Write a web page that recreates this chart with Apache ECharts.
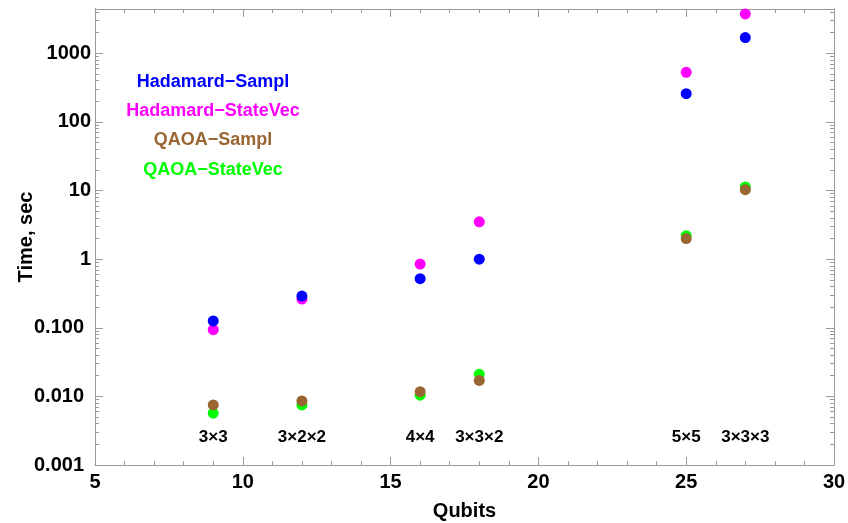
<!DOCTYPE html>
<html>
<head>
<meta charset="utf-8">
<script src="https://cdn.jsdelivr.net/npm/echarts@6/dist/echarts.min.js"></script>
<style>
html,body{margin:0;padding:0;background:#fff;}
#chart{width:848px;height:523px;}
</style>
</head>
<body>
<div id="chart"></div>
<script>
// ---- data ----
const qubits = [9, 12, 16, 18, 25, 27];
const latticeLabels = ['3×3', '3×2×2', '4×4', '3×3×2', '5×5', '3×3×3'];
const hadamardSampl = [0.126, 0.29, 0.52, 1.0, 258, 1700];
const hadamardStateVec = [0.094, 0.262, 0.85, 3.5, 530, 3750];
const qaoaSampl = [0.0075, 0.0086, 0.0117, 0.0171, 2.0, 10.3];
const qaoaStateVec = [0.0057, 0.0075, 0.0104, 0.021, 2.2, 11.3];
const seriesNames = ['Hadamard\u2212Sampl', 'Hadamard\u2212StateVec', 'QAOA\u2212Sampl', 'QAOA\u2212StateVec'];
const seriesColors = ['#0000ff', '#ff00ff', '#996633', '#00ff00'];
const yTickValues = [0.001, 0.01, 0.1, 1, 10, 100, 1000];
const yTickLabels = ['0.001', '0.010', '0.100', '1', '10', '100', '1000'];
const xTickValues = [5, 10, 15, 20, 25, 30];

// ---- config ----
const X_MIN = 5, X_MAX = 30, Y_MIN = 0.001, Y_MAX = 4430;
const LABEL_Y = 0.0025;
const FONT = '"Liberation Sans", Arial, sans-serif';
const AXIS_COLOR = '#9a9a9a';
const LEGEND_POS = [[213, 82], [213, 111], [213, 140], [213, 170]];

const yMinor = [];
for (let k = -3; k <= 3; k++) {
  for (let m = 2; m <= 9; m++) {
    const v = +(m * Math.pow(10, k)).toPrecision(6);
    if (v < Y_MAX) yMinor.push(v);
  }
}

function yLabel(v) {
  const i = yTickValues.findIndex(t => Math.abs(Math.log10(t) - Math.log10(v)) < 1e-6);
  if (i < 0) return '';
  const s = yTickLabels[i];
  return s.indexOf('.') >= 0 ? '{n|' + s + '}{p|}' : '{n|' + s + '}';
}

const chart = echarts.init(document.getElementById('chart'), null, {renderer: 'canvas'});

function pairs(vals) { return qubits.map((x, i) => [x, vals[i]]); }

const lineStyle = {color: AXIS_COLOR, width: 1};
const labelFont = {color: '#000', fontFamily: FONT, fontWeight: 'bold', fontSize: 20};

const yBase = {
  type: 'log', logBase: 10, min: Y_MIN, max: Y_MAX,
  splitLine: {show: false},
  axisLine: {show: true, lineStyle: lineStyle}
};

const option = {
  backgroundColor: '#fff',
  animation: false,
  grid: {left: 95, right: 14, top: 9, bottom: 58, containLabel: false, outerBoundsMode: 'none'},
  xAxis: [
    {
      type: 'value', position: 'bottom', min: X_MIN, max: X_MAX, interval: 5,
      name: 'Qubits', nameLocation: 'middle', nameGap: 36, nameMoveOverlap: false,
      nameTextStyle: {color: '#000', fontFamily: FONT, fontWeight: 'bold', fontSize: 20},
      axisLine: {show: true, onZero: false, lineStyle: lineStyle},
      axisTick: {show: true, inside: true, length: 8, lineStyle: lineStyle, customValues: xTickValues},
      minorTick: {show: true, splitNumber: 5, length: 4, lineStyle: lineStyle},
      axisLabel: Object.assign({margin: 7, customValues: xTickValues}, labelFont),
      splitLine: {show: false}
    },
    {
      type: 'value', position: 'top', min: X_MIN, max: X_MAX, interval: 5,
      axisLine: {show: true, onZero: false, lineStyle: lineStyle},
      axisTick: {show: true, inside: true, length: 8, lineStyle: lineStyle},
      minorTick: {show: true, splitNumber: 5, length: 4, lineStyle: lineStyle},
      axisLabel: {show: false},
      splitLine: {show: false}
    }
  ],
  yAxis: [
    Object.assign({}, yBase, {
      position: 'left',
      name: 'Time, sec', nameLocation: 'middle', nameGap: 59, nameMoveOverlap: false,
      nameTextStyle: {color: '#000', fontFamily: FONT, fontWeight: 'bold', fontSize: 20},
      axisTick: {show: true, inside: true, length: 8, lineStyle: lineStyle, customValues: yTickValues},
      axisLabel: {
        margin: 4, customValues: yTickValues, formatter: yLabel,
        rich: {
          n: labelFont,
          p: {width: 7}
        }
      }
    }),
    Object.assign({}, yBase, {
      position: 'left',
      axisTick: {show: true, inside: true, length: 4, lineStyle: lineStyle, customValues: yMinor},
      axisLabel: {show: false}
    }),
    Object.assign({}, yBase, {
      position: 'right',
      axisTick: {show: true, inside: true, length: 8, lineStyle: lineStyle, customValues: yTickValues},
      axisLabel: {show: false}
    }),
    Object.assign({}, yBase, {
      position: 'right',
      axisTick: {show: true, inside: true, length: 4, lineStyle: lineStyle, customValues: yMinor},
      axisLabel: {show: false}
    })
  ],
  graphic: seriesNames.map((name, i) => ({
    type: 'text',
    x: LEGEND_POS[i][0], y: LEGEND_POS[i][1],
    style: {
      text: name, fill: seriesColors[i], fontFamily: FONT, fontWeight: 'bold', fontSize: 18,
      align: 'center', verticalAlign: 'middle'
    }
  })),
  series: [
    {name: seriesNames[1], type: 'scatter', data: pairs(hadamardStateVec), symbolSize: 11, itemStyle: {color: seriesColors[1], opacity: 1}},
    {name: seriesNames[0], type: 'scatter', data: pairs(hadamardSampl), symbolSize: 11, itemStyle: {color: seriesColors[0], opacity: 1}},
    {name: seriesNames[3], type: 'scatter', data: pairs(qaoaStateVec), symbolSize: 11, itemStyle: {color: seriesColors[3], opacity: 1}},
    {name: seriesNames[2], type: 'scatter', data: pairs(qaoaSampl), symbolSize: 11, itemStyle: {color: seriesColors[2], opacity: 1}},
    {
      name: 'lattice', type: 'scatter', symbolSize: 0, silent: true,
      data: qubits.map((x, i) => ({value: [x, LABEL_Y], name: latticeLabels[i]})),
      label: {
        show: true, position: 'inside', formatter: p => p.name,
        color: '#000', fontFamily: FONT, fontWeight: 'bold', fontSize: 17, opacity: 1
      }
    }
  ]
};
chart.setOption(option);
</script>
</body>
</html>
